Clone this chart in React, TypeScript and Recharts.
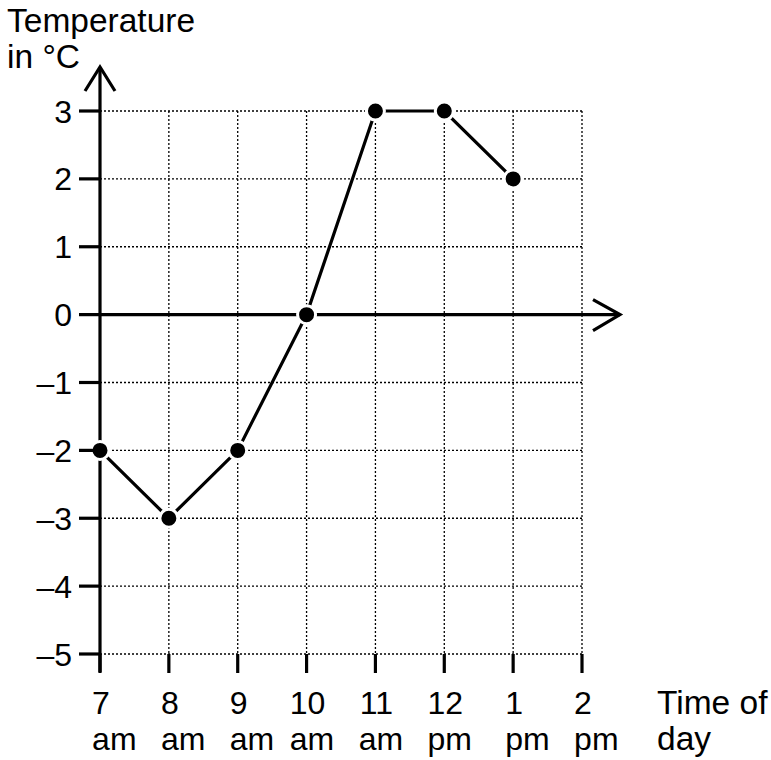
import { LineChart, Line, XAxis, YAxis, CartesianGrid, ReferenceLine } from 'recharts'

// hours on the clock, 13 and 14 are 1 pm and 2 pm
const hours = [7, 8, 9, 10, 11, 12, 13, 14]
const hourLabels = ['7', '8', '9', '10', '11', '12', '1', '2']
const periodLabels = ['am', 'am', 'am', 'am', 'am', 'pm', 'pm', 'pm']

const readingHours = [7, 8, 9, 10, 11, 12, 13]
const temperatures = [-2, -3, -2, 0, 3, 3, 2]

const tempTicks = [-5, -4, -3, -2, -1, 0, 1, 2, 3]

const data = readingHours.map((hour, i) => ({ hour, temp: temperatures[i] }))

const FONT = '"Liberation Sans", Arial, Helvetica, sans-serif'
const FS = 32
const TITLE_FS = 33.5

function HourTick({ x, y, payload }: any) {
  const i = hours.indexOf(payload.value)
  const top = hourLabels[i]
  const left = x + 1 - top.length * 0.278 * FS
  return (
    <g>
      <line x1={x} x2={x} y1={y} y2={y + 19} stroke="#000" strokeWidth={3.2} />
      <text x={x + 1} y={y + 60} textAnchor="middle" fontSize={FS} fontFamily={FONT} fill="#000">
        {top}
      </text>
      <text x={left} y={y + 96} textAnchor="start" fontSize={FS} fontFamily={FONT} fill="#000">
        {periodLabels[i]}
      </text>
    </g>
  )
}

function TempTick({ x, y, payload }: any) {
  const v = payload.value
  const label = v < 0 ? '\u2013' + Math.abs(v) : String(v)
  return (
    <g>
      <line x1={x - 21} x2={x} y1={y} y2={y} stroke="#000" strokeWidth={3.2} />
      <text x={x - 28} y={y + 11.5} textAnchor="end" fontSize={FS} fontFamily={FONT} fill="#000">
        {label}
      </text>
    </g>
  )
}

// axis lines that run past the plot area, with open arrow heads
function YAxisArrow(props: any) {
  const x = props.x1
  const top = Math.min(props.y1, props.y2) - 44
  const bottom = Math.max(props.y1, props.y2) + 18
  return (
    <g>
      <line x1={x} x2={x} y1={bottom} y2={top} stroke="#000" strokeWidth={3.2} />
      <polyline
        points={`${x - 15},${top + 24} ${x},${top} ${x + 15},${top + 24}`}
        fill="none"
        stroke="#000"
        strokeWidth={3.2}
      />
    </g>
  )
}

function XAxisArrow(props: any) {
  const y = props.y1
  const left = Math.min(props.x1, props.x2)
  const right = Math.max(props.x1, props.x2) + 38
  return (
    <g>
      <line x1={left} x2={right} y1={y} y2={y} stroke="#000" strokeWidth={3.2} />
      <polyline
        points={`${right - 27},${y - 15} ${right},${y} ${right - 27},${y + 16}`}
        fill="none"
        stroke="#000"
        strokeWidth={3.2}
      />
    </g>
  )
}

function Titles() {
  return (
    <g fontSize={TITLE_FS} fontFamily={FONT} fill="#000">
      <text x={7} y={32}>Temperature</text>
      <text x={7} y={68}>in °C</text>
      <text x={657} y={714}>Time of</text>
      <text x={657} y={750}>day</text>
    </g>
  )
}

export default function App() {
  return (
    <div style={{ position: 'absolute', left: 0, top: 0, width: 771, height: 760, background: '#fff' }}>
      <LineChart
        width={771}
        height={760}
        data={data}
        margin={{ top: 111, right: 189, bottom: 105, left: 99 }}
      >
        <CartesianGrid stroke="#000" strokeWidth={1.3} strokeDasharray="2 2" />
        <XAxis
          type="number"
          dataKey="hour"
          domain={[7, 14]}
          ticks={hours}
          interval={0}
          height={1}
          axisLine={false}
          tickLine={false}
          tickSize={0}
          tickMargin={0}
          tick={(p: any) => <HourTick {...p} />}
        />
        <YAxis
          type="number"
          domain={[-5, 3]}
          ticks={tempTicks}
          interval={0}
          width={1}
          axisLine={false}
          tickLine={false}
          tickSize={0}
          tickMargin={0}
          tick={(p: any) => <TempTick {...p} />}
          label={{ content: () => <Titles /> }}
        />
        <ReferenceLine x={7} ifOverflow="visible" shape={YAxisArrow} />
        <ReferenceLine y={0} ifOverflow="visible" shape={XAxisArrow} />
        <Line
          dataKey="temp"
          stroke="#000"
          strokeWidth={3.2}
          dot={{ r: 9, fill: '#000', stroke: '#fff', strokeWidth: 3 }}
          isAnimationActive={false}
        />
      </LineChart>
    </div>
  )
}
